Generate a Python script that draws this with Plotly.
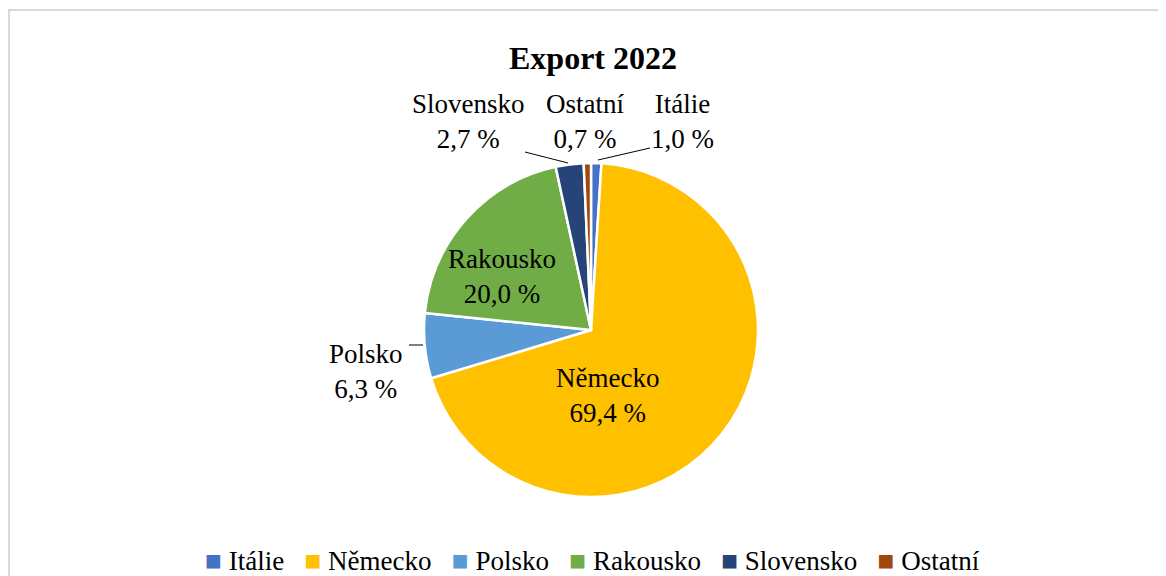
import plotly.graph_objects as go

W, H = 1166, 576

title = "Export 2022"
labels = ["Itálie", "Německo", "Polsko", "Rakousko", "Slovensko", "Ostatní"]
values = [1.0, 69.4, 6.3, 20.0, 2.7, 0.7]
colors = ["#4472C4", "#FFC000", "#5B9BD5", "#70AD47", "#264478", "#9E480E"]

FONT = "Liberation Serif, Times New Roman, serif"
OFF = 8  # page body margin

# pie placement in screen pixels (layout)
cx, cy, r = 591, 330, 167


def px(x):
    return (x - OFF) / W


def py(y):
    return 1 - (y - OFF) / H


fig = go.Figure()
fig.add_trace(go.Pie(
    labels=labels, values=values, sort=False, direction="clockwise", rotation=0,
    marker=dict(colors=colors, line=dict(color="white", width=2.5)),
    textinfo="none", hoverinfo="label+percent", showlegend=False,
    domain=dict(x=[px(cx - r), px(cx + r)], y=[py(cy + r), py(cy - r)]),
))

# label positions (screen pixel centres) per category
label_pos = {
    "Itálie": (682, 121),
    "Německo": (607, 395),
    "Polsko": (366, 371),
    "Rakousko": (502, 276),
    "Slovensko": (468, 121),
    "Ostatní": (585, 121),
}

annotations = []
for lab, val in zip(labels, values):
    x, y = label_pos[lab]
    txt = f"{lab}<br>{val:.1f} %".replace(".", ",")
    annotations.append(dict(
        x=px(x), y=py(y), xref="paper", yref="paper", text=txt, showarrow=False,
        font=dict(family=FONT, size=27, color="#000000"), align="center",
        xanchor="center", yanchor="middle",
    ))

annotations.append(dict(
    x=px(593), y=py(58), xref="paper", yref="paper", text=f"<b>{title}</b>",
    showarrow=False, font=dict(family=FONT, size=32, color="#000000"),
    xanchor="center", yanchor="middle",
))

# legend built as one line of text with coloured squares
items = [f'<span style="color:{c};font-size:28px">■</span> {lab}' for lab, c in zip(labels, colors)]
legend_text = "&nbsp;&nbsp;&nbsp;".join(items)
annotations.append(dict(
    x=px(592), y=py(560), xref="paper", yref="paper", text=legend_text,
    showarrow=False, font=dict(family=FONT, size=27, color="#000000"),
    xanchor="center", yanchor="middle",
))

shapes = [
    dict(type="rect", xref="paper", yref="paper", x0=px(9), x1=px(1190), y0=py(600), y1=py(10),
         line=dict(color="#D9D9D9", width=2), fillcolor="rgba(0,0,0,0)"),
]
# leader lines
for (x0, y0, x1, y1) in [(525, 152, 568, 163), (598, 160, 650, 148), (409, 345, 423, 345)]:
    shapes.append(dict(type="line", xref="paper", yref="paper", x0=px(x0), y0=py(y0), x1=px(x1), y1=py(y1),
                       line=dict(color="#000000", width=1)))

fig.update_layout(
    width=W, height=H, margin=dict(l=0, r=0, t=0, b=0),
    paper_bgcolor="white", plot_bgcolor="white",
    annotations=annotations, shapes=shapes,
    showlegend=False,
)

fig.write_html("out.html")
